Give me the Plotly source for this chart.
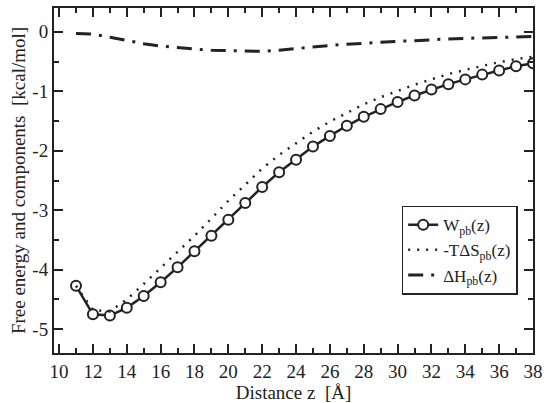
import plotly.graph_objects as go

z = list(range(11, 39))
W_pb = [-4.27, -4.75, -4.77, -4.64, -4.44, -4.21, -3.96, -3.69, -3.43, -3.16,
        -2.88, -2.61, -2.36, -2.15, -1.93, -1.75, -1.58, -1.43, -1.30, -1.18,
        -1.07, -0.97, -0.88, -0.80, -0.72, -0.65, -0.58, -0.53]
TdS_pb = [-4.27, -4.68, -4.70, -4.50, -4.24, -3.97, -3.70, -3.43, -3.14, -2.84,
          -2.57, -2.30, -2.07, -1.87, -1.68, -1.51, -1.36, -1.22, -1.10, -0.99,
          -0.89, -0.80, -0.71, -0.64, -0.57, -0.51, -0.46, -0.42]
dH_pb = [-0.03, -0.04, -0.09, -0.15, -0.20, -0.24, -0.27, -0.29, -0.31, -0.32,
         -0.33, -0.33, -0.31, -0.28, -0.25, -0.23, -0.21, -0.19, -0.17, -0.16,
         -0.15, -0.13, -0.12, -0.11, -0.10, -0.10, -0.09, -0.08]

x_ticks = list(range(10, 39, 2))
y_ticks = [0, -1, -2, -3, -4, -5]
y_ticktext = ["0", "-1", "-2", "-3", "-4", "-5"]

FONT = "'Liberation Serif', 'DejaVu Serif', serif"
INK = "#222222"

fig = go.Figure()
fig.add_trace(go.Scatter(
    x=z, y=W_pb, mode="lines+markers", name="W<sub>pb</sub>(z)",
    line=dict(color=INK, width=2.5),
    marker=dict(symbol="circle", size=10, color="white", line=dict(color=INK, width=2)),
))
fig.add_trace(go.Scatter(
    x=z, y=TdS_pb, mode="lines", name="-TΔS<sub>pb</sub>(z)",
    line=dict(color=INK, width=2.5, dash="2px,7px"),
))
fig.add_trace(go.Scatter(
    x=z, y=dH_pb, mode="lines", name="ΔH<sub>pb</sub>(z)",
    line=dict(color=INK, width=3, dash="15px,8px,3px,8px"),
))

axis_common = dict(
    showline=True, linecolor=INK, linewidth=2, mirror="ticks",
    ticks="inside", tickcolor=INK, tickwidth=1.5, ticklen=9,
    showgrid=False, zeroline=False,
    tickfont=dict(family=FONT, size=19, color=INK),
)

fig.update_xaxes(
    range=[9.7, 38], tickvals=x_ticks,
    minor=dict(ticks="inside", ticklen=5, tickwidth=1.5, tickcolor=INK, dtick=1, tick0=10, showgrid=False),
    title=dict(text="Distance z  [Å]", font=dict(family=FONT, size=19, color=INK), standoff=0),
    **axis_common,
)
fig.update_yaxes(
    range=[-5.4, 0.4], tickvals=y_ticks, ticktext=y_ticktext,
    minor=dict(ticks="inside", ticklen=5, tickwidth=1.5, tickcolor=INK, dtick=0.5, tick0=0, showgrid=False),
    title=dict(text="Free energy and components  [kcal/mol]", font=dict(family=FONT, size=19, color=INK), standoff=2),
    **axis_common,
)

fig.update_layout(
    width=549, height=403,
    margin=dict(l=54, r=11, t=6, b=50),
    paper_bgcolor="white", plot_bgcolor="white",
    font=dict(family=FONT, size=19, color=INK),
    legend=dict(
        x=0.968, y=0.427, xanchor="right", yanchor="top",
        bgcolor="white", bordercolor=INK, borderwidth=1.5,
        font=dict(family=FONT, size=17, color=INK),
        tracegroupgap=0, itemwidth=30,
    ),
    showlegend=True,
)

fig.write_html("out.html")
